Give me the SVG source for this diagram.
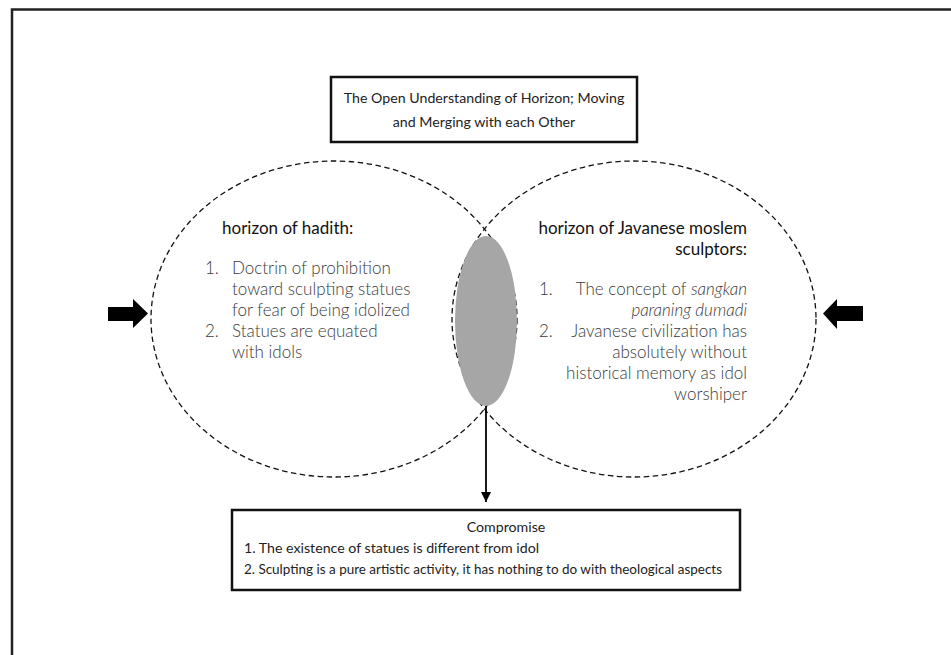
<svg xmlns="http://www.w3.org/2000/svg" width="951" height="655" viewBox="0 0 951 655">
<style>
.box{fill:#fff;stroke:#111;stroke-width:2.5}
.horizon{fill:none;stroke:#111;stroke-width:1.3;stroke-dasharray:5.5 3.5}
.t{font-family:Lato,"Liberation Sans",sans-serif;fill:#222}
.title{font-size:14.2px}
.head{font-size:17px;fill:#111}
.body{font-size:17px;fill:#3a3a3a;font-weight:300}
.comp{font-size:14.2px}
.blk{fill:#000}
</style>
<defs>
<marker id="ah" markerWidth="10" markerHeight="10" refX="10" refY="5" orient="auto" markerUnits="userSpaceOnUse" viewBox="0 0 10 10">
<path d="M0,0 L10,5 L0,10 Z" fill="#000"/>
</marker>
</defs>
<rect x="12" y="9.5" width="960" height="670" fill="none" stroke="#222" stroke-width="2.5"/>

<g id="title">
<rect class="box" x="331" y="77" width="306" height="65"/>
<text class="t title" x="484" y="103" text-anchor="middle">The Open Understanding of Horizon; Moving</text>
<text class="t title" x="484" y="127" text-anchor="middle">and Merging with each Other</text>
</g>

<g id="horizon-hadith">
<ellipse class="horizon" cx="334" cy="319" rx="183" ry="158"/>
<text class="t head" x="222" y="234">horizon of hadith:</text>
<text class="t body" x="205" y="274">1.</text>
<text class="t body" x="232" y="274">Doctrin of prohibition</text>
<text class="t body" x="232" y="295">toward sculpting statues</text>
<text class="t body" x="232" y="316">for fear of being idolized</text>
<text class="t body" x="205" y="337">2.</text>
<text class="t body" x="232" y="337">Statues are equated</text>
<text class="t body" x="232" y="358">with idols</text>
</g>

<g id="horizon-javanese">
<ellipse class="horizon" cx="634" cy="319" rx="182" ry="158"/>
<text class="t head" x="747" y="234" text-anchor="end">horizon of Javanese moslem</text>
<text class="t head" x="747" y="255" text-anchor="end">sculptors:</text>
<text class="t body" x="539" y="295">1.</text>
<text class="t body" x="747" y="295" text-anchor="end">The concept of <tspan font-style="italic">sangkan</tspan></text>
<text class="t body" x="747" y="316" text-anchor="end" font-style="italic">paraning dumadi</text>
<text class="t body" x="539" y="337">2.</text>
<text class="t body" x="747" y="337" text-anchor="end">Javanese civilization has</text>
<text class="t body" x="747" y="358" text-anchor="end">absolutely without</text>
<text class="t body" x="747" y="379" text-anchor="end">historical memory as idol</text>
<text class="t body" x="747" y="400" text-anchor="end">worshiper</text>
</g>

<g id="fusion">
<ellipse cx="486" cy="321" rx="31" ry="85" fill="#a6a6a6"/>
</g>

<g id="push-left">
<polygon class="blk" points="108,307 133,307 133,299 148,313.5 133,328 133,321 108,321"/>
</g>
<g id="push-right">
<polygon class="blk" points="863,306 837,306 837,299 823,313.5 837,329 837,321 863,321"/>
</g>

<g id="compromise">
<rect class="box" x="232" y="510" width="508" height="80"/>
<text class="t comp" x="506" y="532" text-anchor="middle">Compromise</text>
<text class="t comp" x="244" y="553">1.  The existence of statues is different from idol</text>
<text class="t comp" x="244" y="574" textLength="478" lengthAdjust="spacingAndGlyphs">2.  Sculpting is a pure artistic activity, it has nothing to do with theological aspects</text>
</g>

<g id="connectors">
<line x1="486" y1="406" x2="486" y2="502" stroke="#000" stroke-width="1.8" marker-end="url(#ah)"/>
</g>
</svg>
